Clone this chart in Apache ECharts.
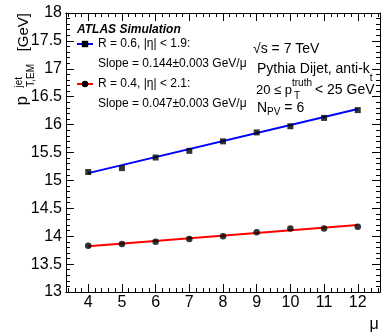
<!DOCTYPE html>
<html><head><meta charset="utf-8">
<script src="https://cdn.jsdelivr.net/npm/echarts@6/dist/echarts.min.js"></script>
<style>html,body{margin:0;padding:0;background:#fff}#c{width:381px;height:333px}</style>
</head><body><div id="c"></div>
<script>
const mu = [4, 5, 6, 7, 8, 9, 10, 11, 12];
const ptR06 = [15.15, 15.22, 15.41, 15.53, 15.70, 15.86, 15.97, 16.12, 16.26];
const ptR04 = [13.83, 13.86, 13.90, 13.95, 14.00, 14.07, 14.14, 14.14, 14.17];
const fitMu = [4, 12];
const fitR06 = [15.13, 16.28];
const fitR04 = [13.82, 14.20];
const seriesNames = ['R = 0.6, |η| < 1.9:', 'R = 0.4, |η| < 2.1:'];
const slopeTexts = ['Slope = 0.144±0.003 GeV/μ', 'Slope = 0.047±0.003 GeV/μ'];
const xTicks = [4, 5, 6, 7, 8, 9, 10, 11, 12];
const xMinorTicks = [];
for (let k = 34; k <= 126; k += 2) xMinorTicks.push(k / 10);

const FF = '"Liberation Sans", Arial, Helvetica, sans-serif';
const X_MIN = 3.34, X_MAX = 12.66;

function pairs(xs, ys) { return xs.map((x, i) => [x, ys[i]]); }

function xAx(pos, major, labels) {
  return {
    type: 'value', position: pos, min: X_MIN, max: X_MAX,
    axisLine: { show: true, onZero: false, lineStyle: { color: '#000', width: 1 } },
    axisTick: { show: true, inside: true, length: major ? 8 : 4, customValues: major ? xTicks : xMinorTicks,
      lineStyle: { color: '#000', width: 1 } },
    axisLabel: { show: labels, customValues: xTicks, color: '#000', fontSize: 16, fontFamily: FF, margin: 3 },
    splitLine: { show: false },
    name: labels ? 'μ' : '',
    nameLocation: 'end', nameGap: -6,
    nameTextStyle: { color: '#000', fontSize: 16, fontFamily: FF, align: 'center', verticalAlign: 'top', padding: [25, 0, 0, 0] }
  };
}
function yAx(pos, labels) {
  return {
    type: 'value', position: pos, min: 13, max: 18, interval: 0.5,
    axisLine: { show: true, onZero: false, lineStyle: { color: '#000', width: 1 } },
    axisTick: { show: true, inside: true, length: 8, lineStyle: { color: '#000', width: 1 } },
    minorTick: { show: true, splitNumber: 5, length: 4, lineStyle: { color: '#000', width: 1 } },
    axisLabel: { show: labels, color: '#000', fontSize: 16, fontFamily: FF, margin: 4 },
    splitLine: { show: false }, minorSplitLine: { show: false }
  };
}

const chart = echarts.init(document.getElementById('c'), null, { renderer: 'canvas' });

function rotPiece(text, size, x, y) {
  return { type: 'text', x: x, y: y, rotation: Math.PI / 2, silent: true,
    style: { text: text, fontSize: size, fontFamily: FF, fill: '#000', align: 'right', verticalAlign: 'bottom' } };
}
function txt(text, size, x, y, extra) {
  return { type: 'text', x: x, y: y, silent: true,
    style: Object.assign({ text: text, fontSize: size, fontFamily: FF, fill: '#000', align: 'left', verticalAlign: 'middle' }, extra || {}) };
}

const legendRich = {
  e: { fontSize: 12, fontFamily: FF, color: '#000', lineHeight: 20 },
  a: { fontSize: 12, fontFamily: FF, color: '#000', lineHeight: 20 }
};

const option = {
  animation: false,
  backgroundColor: '#fff',
  grid: { left: 66, right: 1, top: 13, bottom: 41, containLabel: false, outerBoundsMode: 'none' },
  xAxis: [xAx('bottom', true, true), xAx('bottom', false, false), xAx('top', true, false), xAx('top', false, false)],
  yAxis: [yAx('left', true), yAx('right', false)],
  legend: seriesNames.map((n, i) => ({
    data: [n], left: 76, top: [18, 58][i], orient: 'vertical', padding: 0,
    itemWidth: 16, itemHeight: 8, itemGap: 0, selectedMode: false,
    formatter: name => '{e| }\n{a|' + name + '}\n{a|' + slopeTexts[i] + '}',
    textStyle: { fontSize: 12, fontFamily: FF, color: '#000', rich: legendRich }
  })),
  series: [
    { name: seriesNames[0], type: 'line', data: pairs(fitMu, fitR06), symbol: 'rect', showSymbol: false,
      lineStyle: { color: '#0000ff', width: 2 }, itemStyle: { color: '#000' }, z: 2 },
    { name: 'ptR06', type: 'scatter', data: pairs(mu, ptR06), symbol: 'rect', symbolSize: 6,
      itemStyle: { color: '#000' }, z: 3 },
    { name: seriesNames[1], type: 'line', data: pairs(fitMu, fitR04), symbol: 'circle', showSymbol: false,
      lineStyle: { color: '#ff0000', width: 2 }, itemStyle: { color: '#000' }, z: 2 },
    { name: 'ptR04', type: 'scatter', data: pairs(mu, ptR04), symbol: 'circle', symbolSize: 6.5,
      itemStyle: { color: '#000' }, z: 3 }
  ],
  graphic: [
    txt('ATLAS Simulation', 12, 77, 30, { fontWeight: 'bold', fontStyle: 'italic' }),
    txt('√s = 7 TeV', 14, 253, 49),
    { type: 'text', x: 257, y: 69, silent: true, style: { text: '{m|Pythia Dijet, anti-k}{s|t}', verticalAlign: 'middle', align: 'left',
      rich: { m: { fontSize: 14, fontFamily: FF, color: '#000', lineHeight: 28 }, s: { fontSize: 10, fontFamily: FF, color: '#000', lineHeight: 10, verticalAlign: 'bottom' } } } },
    txt('20 ≤ p', 13, 256, 90),
    txt('truth', 10, 292, 83),
    txt('T', 10, 294, 96),
    txt('< 25 GeV', 14, 315, 90),
    { type: 'text', x: 257, y: 108, silent: true, style: { text: '{m|N}{s|PV}{m| = 6}', verticalAlign: 'middle', align: 'left',
      rich: { m: { fontSize: 14, fontFamily: FF, color: '#000', lineHeight: 18 }, s: { fontSize: 10, fontFamily: FF, color: '#000', lineHeight: 10, verticalAlign: 'bottom' } } } },
    rotPiece('[GeV]', 15, 31, 13),
    rotPiece('T,EM', 10, 36, 64),
    rotPiece('jet', 10, 24, 77),
    rotPiece('p', 17, 31, 96)
  ]
};
chart.setOption(option);
</script></body></html>
